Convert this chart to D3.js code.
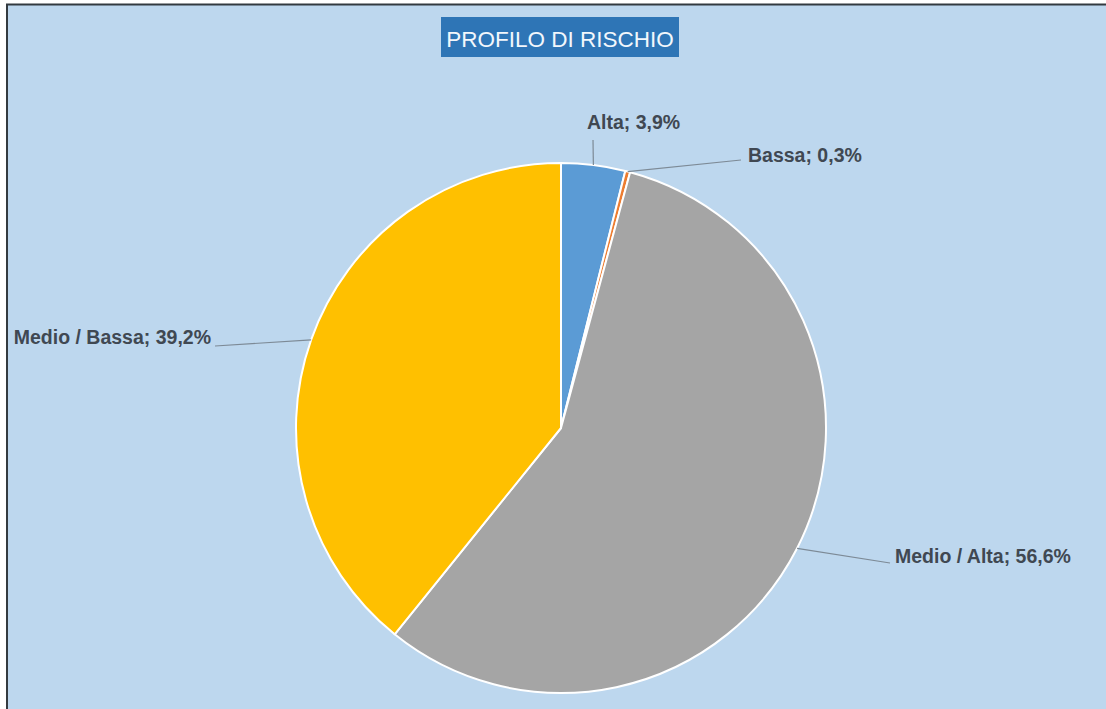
<!DOCTYPE html>
<html><head><meta charset="utf-8">
<script src="https://cdn.jsdelivr.net/npm/d3@7"></script>
<style>html,body{margin:0;padding:0;background:#fff;}svg{display:block;}</style>
</head><body>
<svg id="chart" width="1106" height="709"></svg>
<script>
const categories = ["Alta", "Bassa", "Medio / Alta", "Medio / Bassa"];
const values = [3.9, 0.3, 56.6, 39.2];
const valueLabels = ["3,9%", "0,3%", "56,6%", "39,2%"];
const colors = ["#5B9BD5", "#ED7D31", "#A5A5A5", "#FFC000"];
const title = "PROFILO DI RISCHIO";

const svg = d3.select("#chart");
const W = 1106, H = 709;
const cx = 561, cy = 428, R = 265;

// frame
svg.append("rect").attr("x", 7).attr("y", 4.5).attr("width", W + 10).attr("height", H + 10)
  .attr("fill", "#BDD7EE").attr("stroke", "#333a40").attr("stroke-width", 2);

// title
const tg = svg.append("g");
tg.append("rect").attr("x", 441).attr("y", 17).attr("width", 238).attr("height", 40).attr("fill", "#2E75B6");
tg.append("text").attr("x", 560).attr("y", 47).attr("text-anchor", "middle")
  .attr("font-family", "'Liberation Sans', Arial, sans-serif").attr("font-size", 22.5)
  .attr("fill", "#F2F7FC").text(title);

const data = categories.map((c, i) => ({cat: c, value: values[i], label: valueLabels[i], color: colors[i]}));
const pie = d3.pie().value(d => d.value).sort(null);
const arcs = pie(data);
const arc = d3.arc().innerRadius(0).outerRadius(R);

const g = svg.append("g").attr("transform", `translate(${cx},${cy})`);
g.selectAll("path").data(arcs).join("path")
  .attr("d", arc).attr("fill", d => d.data.color)
  .attr("stroke", "#fff").attr("stroke-width", 2).attr("stroke-linejoin", "round");

// label layout (relative positions of label ends)
const labelPos = [
  {end: [593, 140], tx: 587, ty: 129, anchor: "start"},
  {end: [741, 160], tx: 748, ty: 162, anchor: "start"},
  {end: [890, 563], tx: 895, ty: 563, anchor: "start"},
  {end: [215, 346], tx: 211, ty: 344, anchor: "end"}
];

arcs.forEach((a, i) => {
  const mid = (a.startAngle + a.endAngle) / 2;
  const sx = cx + R * Math.sin(mid), sy = cy - R * Math.cos(mid);
  const lp = labelPos[i];
  svg.append("line").attr("x1", sx).attr("y1", sy).attr("x2", lp.end[0]).attr("y2", lp.end[1])
    .attr("stroke", "#7d8a96").attr("stroke-width", 1.2);
  svg.append("text").attr("x", lp.tx).attr("y", lp.ty).attr("text-anchor", lp.anchor)
    .attr("font-family", "'Liberation Sans', Arial, sans-serif").attr("font-size", 19.5)
    .attr("font-weight", "bold").attr("fill", "#404852")
    .text(`${a.data.cat}; ${a.data.label}`);
});
</script>
</body></html>
